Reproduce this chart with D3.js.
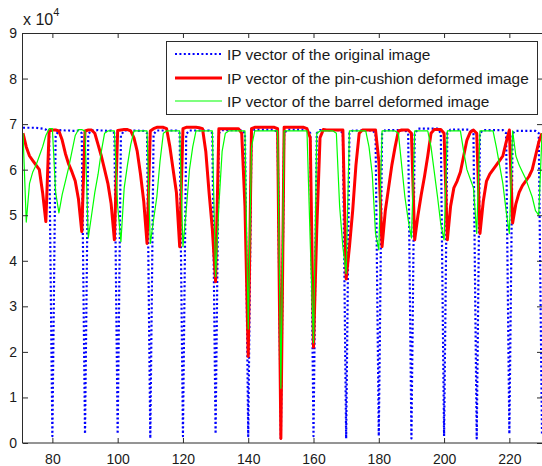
<!DOCTYPE html>
<html><head><meta charset="utf-8">
<script src="https://cdn.jsdelivr.net/npm/d3@7"></script>
<style>html,body{margin:0;padding:0;background:#fff;overflow:hidden}</style>
</head><body>
<svg id="chart" width="542" height="466"></svg>
<script>
// x positions (sample index along the image), values in units of 10^4
const xFirst = 71, xLast = 230;
const xTicks = [80, 100, 120, 140, 160, 180, 200, 220];
const yTicks = [0, 1, 2, 3, 4, 5, 6, 7, 8, 9];
const yExponent = "4";
const seriesNames = [
  "IP vector of the original image",
  "IP vector of the pin-cushion deformed image",
  "IP vector of the barrel deformed image"
];
const original = [
  6.92,6.92,6.92,6.92,6.92,6.91,6.90,6.88,6.80,0.15,
  6.75,6.86,6.87,6.86,6.86,6.85,6.85,6.86,6.80,0.20,
  6.78,6.86,6.86,6.87,6.86,6.86,6.85,6.86,6.80,0.20,
  6.75,6.86,6.86,6.86,6.86,6.86,6.85,6.85,6.80,0.10,
  6.78,6.86,6.86,6.86,6.86,6.86,6.86,6.86,6.80,0.15,
  6.78,6.86,6.86,6.86,6.86,6.86,6.86,6.86,6.80,0.20,
  6.80,6.87,6.87,6.87,6.87,6.87,6.87,6.87,6.80,0.15,
  6.80,6.88,6.88,6.88,6.88,6.88,6.88,6.88,6.80,0.10,
  6.80,6.88,6.88,6.88,6.88,6.88,6.88,6.88,6.80,0.15,
  6.80,6.87,6.87,6.87,6.87,6.87,6.87,6.87,6.80,0.10,
  6.80,6.86,6.86,6.86,6.86,6.86,6.86,6.86,6.80,0.15,
  6.78,6.87,6.87,6.87,6.87,6.87,6.87,6.87,6.80,0.10,
  6.78,6.90,6.90,6.90,6.90,6.90,6.90,6.90,6.80,0.15,
  6.80,6.88,6.88,6.88,6.88,6.88,6.88,6.88,6.80,0.10,
  6.80,6.87,6.87,6.87,6.87,6.87,6.87,6.87,6.80,0.20,
  6.80,6.85,6.85,6.85,6.85,6.85,6.85,6.85,6.80,0.20
];
const pinCushion = [
  6.80,6.50,6.30,6.20,6.10,6.00,5.50,4.86,6.85,6.87,
  6.87,6.85,6.65,6.35,6.12,5.95,5.75,5.35,4.64,6.85,
  6.87,6.87,6.80,6.55,6.30,6.00,5.70,5.25,4.46,6.86,
  6.87,6.88,6.88,6.85,6.70,6.40,5.90,5.30,4.38,6.85,
  6.90,6.93,6.93,6.93,6.90,6.50,6.00,5.50,4.31,6.90,
  6.93,6.93,6.93,6.93,6.92,6.90,6.40,5.50,4.70,3.54,
  6.90,6.90,6.90,6.90,6.90,6.90,6.90,6.80,5.20,1.90,
  6.90,6.93,6.93,6.93,6.93,6.93,6.93,6.93,6.90,0.10,
  6.93,6.93,6.93,6.93,6.93,6.93,6.93,6.90,6.70,2.10,
  4.70,6.70,6.88,6.87,6.87,6.87,6.87,6.87,6.87,3.60,
  4.30,5.10,6.10,6.80,6.87,6.87,6.87,6.87,6.87,6.20,
  4.31,5.10,5.60,6.10,6.50,6.85,6.87,6.87,6.87,6.80,
  4.46,5.00,5.45,5.85,6.30,6.80,6.88,6.88,6.88,6.80,
  4.46,5.20,5.60,5.75,5.95,6.30,6.65,6.82,6.87,6.80,
  4.60,5.30,5.75,5.90,6.00,6.10,6.20,6.30,6.60,6.87,
  4.83,5.25,5.50,5.65,5.75,5.85,6.00,6.30,6.60,6.80
];
const barrel = [
  6.80,4.85,5.70,5.95,6.10,6.30,6.50,6.75,6.90,6.90,
  5.50,5.05,5.45,5.75,6.05,6.40,6.75,6.88,6.88,6.85,
  4.50,5.00,5.50,5.90,6.40,6.80,6.85,6.85,6.85,5.20,
  4.42,5.60,6.10,6.55,6.85,6.85,6.85,6.85,6.85,4.38,
  4.90,5.40,6.20,6.80,6.85,6.85,6.85,6.85,6.85,4.31,
  5.10,6.00,6.50,6.85,6.85,6.85,6.85,6.85,6.85,3.65,
  5.20,6.40,6.80,6.85,6.85,6.85,6.85,6.85,6.85,2.50,
  6.50,6.85,6.85,6.85,6.85,6.85,6.85,6.85,6.85,1.20,
  6.85,6.85,6.85,6.85,6.85,6.85,6.85,6.85,4.40,2.20,
  6.80,6.85,6.85,6.85,6.85,6.85,6.80,5.20,4.30,3.72,
  6.85,6.85,6.85,6.85,6.85,6.85,6.50,5.90,4.60,4.24,
  6.85,6.85,6.85,6.85,6.85,6.80,6.10,5.40,4.90,4.50,
  6.85,6.85,6.85,6.85,6.85,6.50,5.95,5.40,4.80,4.46,
  6.85,6.85,6.85,6.85,6.85,6.40,6.00,5.80,5.60,4.60,
  6.85,6.85,6.85,6.85,6.85,6.50,6.10,5.70,5.10,4.60,
  6.85,6.30,6.10,5.95,5.80,5.60,5.40,5.10,5.00,6.80
];
const seriesColors = ["#0000ff", "#ff0000", "#00ff00"];

const svg = d3.select("#chart");
const W = 542, H = 466;
const plot = {left: 23, right: 542, top: 33, bottom: 443};
const font = "Arial, 'Liberation Sans', Helvetica, sans-serif";
const axisColor = "#2b2b2b";
const textColor = "#1a1a1a";

const x = d3.scaleLinear().domain([xFirst, xLast]).range([plot.left, plot.right]);
const y = d3.scaleLinear().domain([0, 9]).range([plot.bottom, plot.top]);

svg.append("rect").attr("width", W).attr("height", H).attr("fill", "#fff");

svg.append("defs").append("clipPath").attr("id", "clip")
  .append("rect").attr("x", plot.left).attr("y", plot.top)
  .attr("width", plot.right - plot.left).attr("height", plot.bottom - plot.top);

const series = [original, pinCushion, barrel].map((vals, k) => ({
  name: seriesNames[k], color: seriesColors[k],
  points: vals.map((v, i) => [xFirst + i, v])
}));

const line = d3.line().x(d => x(d[0])).y(d => y(d[1]));
const styles = [
  {w: 2.2, dash: "2,2.4"},
  {w: 3, dash: null},
  {w: 1.2, dash: null}
];
const g = svg.append("g").attr("clip-path", "url(#clip)");
series.forEach((s, k) => {
  g.append("path").datum(s.points)
    .attr("d", line)
    .attr("fill", "none")
    .attr("stroke", s.color)
    .attr("stroke-width", styles[k].w)
    .attr("stroke-dasharray", styles[k].dash)
    .attr("stroke-linejoin", "round");
});

// axes
function styleAxis(sel) {
  sel.select(".domain").remove();
  sel.selectAll(".tick line").attr("stroke", axisColor);
  sel.selectAll("text").attr("fill", textColor).style("font-family", font).style("font-size", "14px");
}
svg.append("g").attr("transform", `translate(0,${plot.bottom})`)
  .call(d3.axisBottom(x).tickValues(xTicks).tickSizeInner(-5).tickSizeOuter(0).tickPadding(11).tickFormat(d3.format("d")))
  .call(styleAxis);
svg.append("g").attr("transform", `translate(0,${plot.top})`)
  .call(d3.axisTop(x).tickValues(xTicks).tickSizeInner(-5).tickSizeOuter(0).tickFormat(""))
  .call(styleAxis);
svg.append("g").attr("transform", `translate(${plot.left},0)`)
  .call(d3.axisLeft(y).tickValues(yTicks).tickSizeInner(-5).tickSizeOuter(0).tickPadding(6).tickFormat(d3.format("d")))
  .call(styleAxis);
svg.append("g").attr("transform", `translate(${plot.right},0)`)
  .call(d3.axisRight(y).tickValues(yTicks).tickSizeInner(-5).tickSizeOuter(0).tickFormat(""))
  .call(styleAxis);

svg.append("rect")
  .attr("x", plot.left - 0.5).attr("y", plot.top + 0.5)
  .attr("width", plot.right - plot.left + 1).attr("height", plot.bottom - plot.top - 0.5)
  .attr("fill", "none").attr("stroke", axisColor).attr("stroke-width", 1);

// exponent label
const ex = svg.append("text").attr("x", 23).attr("y", 25)
  .attr("fill", textColor).style("font-family", font).style("font-size", "16px");
ex.append("tspan").text("x 10");
ex.append("tspan").attr("dy", -9).style("font-size", "11px").text(yExponent);

// legend
const lg = {x: 166, y: 41, w: 371, h: 73};
svg.append("rect").attr("x", lg.x + 0.5).attr("y", lg.y + 0.5)
  .attr("width", lg.w).attr("height", lg.h)
  .attr("fill", "#fff").attr("stroke", axisColor).attr("stroke-width", 1);
const rowsY = [54, 78, 101];
series.forEach((s, k) => {
  svg.append("line").attr("x1", 175).attr("x2", 222).attr("y1", rowsY[k]).attr("y2", rowsY[k])
    .attr("stroke", s.color).attr("stroke-width", styles[k].w)
    .attr("stroke-dasharray", styles[k].dash);
  svg.append("text").attr("x", 227).attr("y", rowsY[k]).attr("dy", "0.36em")
    .attr("fill", textColor).style("font-family", font).style("font-size", "15.4px")
    .text(s.name);
});
</script>
</body></html>
